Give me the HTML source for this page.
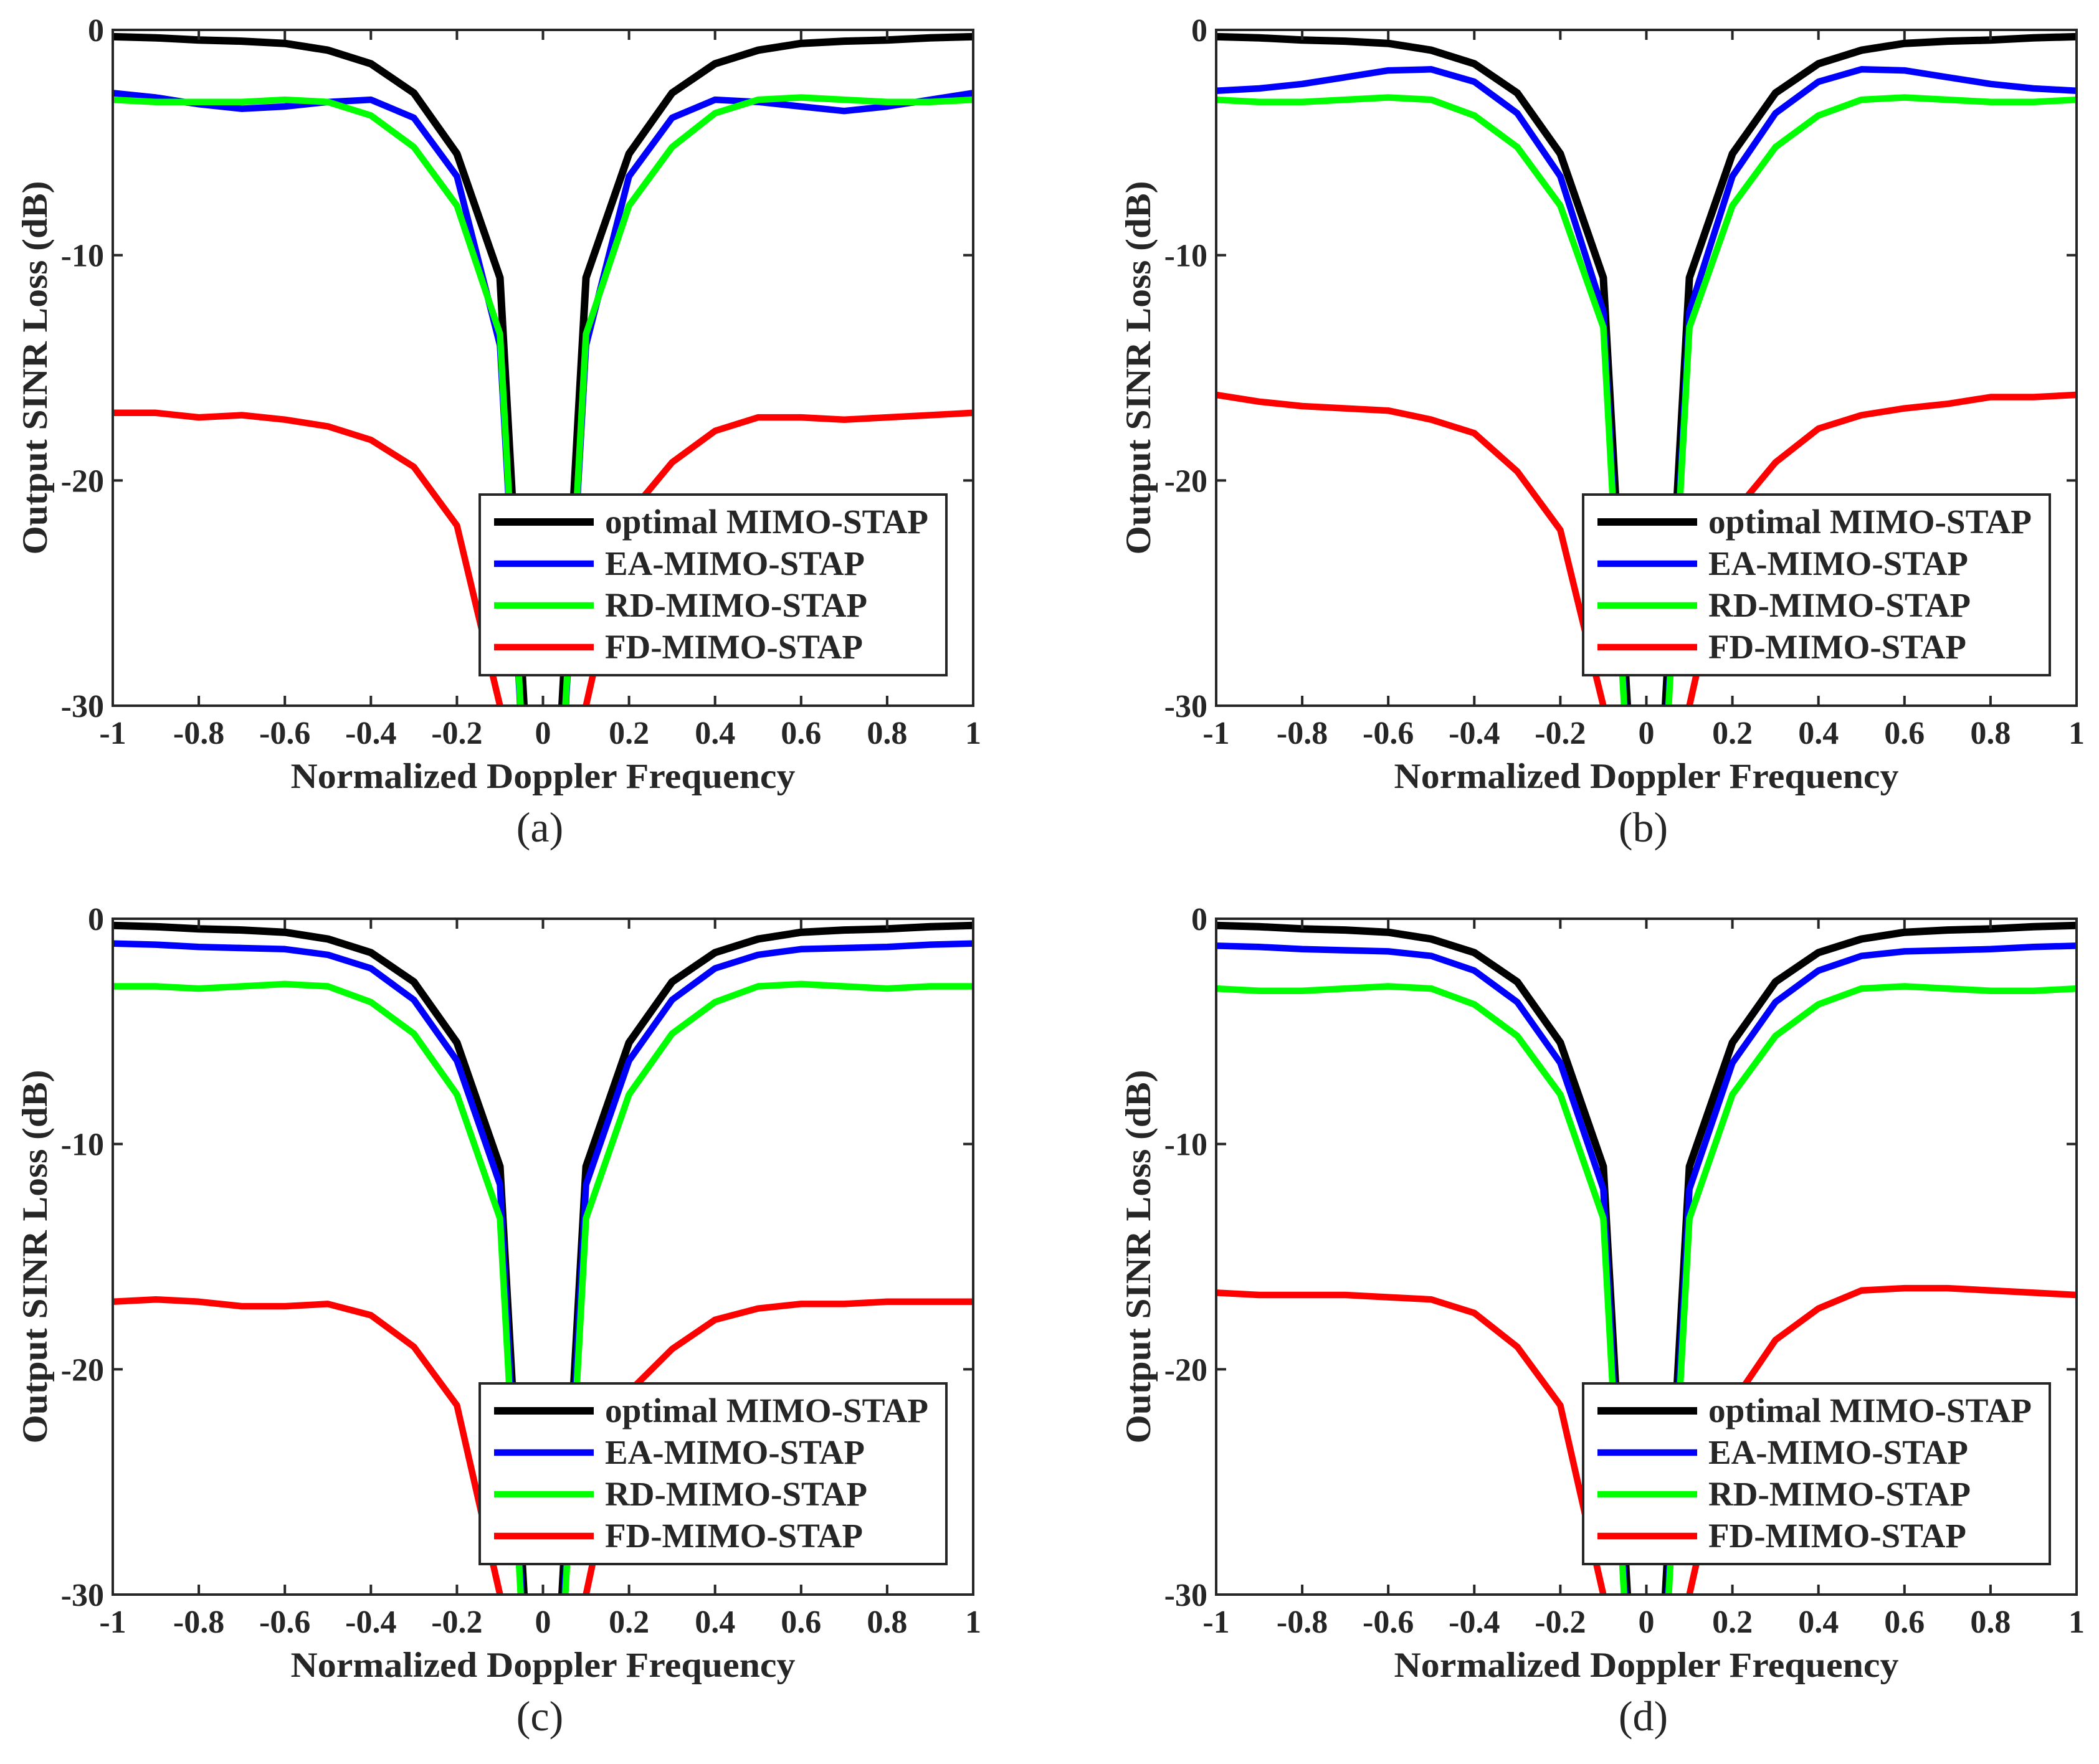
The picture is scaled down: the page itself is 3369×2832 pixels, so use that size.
<!DOCTYPE html>
<html><head><meta charset="utf-8"><title>Output SINR Loss</title>
<style>html,body{margin:0;padding:0;background:#fff;overflow:hidden;width:3369px;height:2832px}svg{display:block}
text{font-family:"Liberation Serif","DejaVu Serif",serif;fill:#262626}</style></head>
<body>
<svg id="fig" xmlns="http://www.w3.org/2000/svg" width="3369" height="2832" viewBox="0 0 3369 2832" font-family="'Liberation Serif', 'DejaVu Serif', serif"></svg>
<script>
// ---- data ----
const xVals = [-1,-0.9,-0.8,-0.7,-0.6,-0.5,-0.4,-0.3,-0.2,-0.1,0,0.1,0.2,0.3,0.4,0.5,0.6,0.7,0.8,0.9,1];
const xTicks = [-1,-0.8,-0.6,-0.4,-0.2,0,0.2,0.4,0.6,0.8,1];
const xTickLabels = ["-1","-0.8","-0.6","-0.4","-0.2","0","0.2","0.4","0.6","0.8","1"];
const yTicks = [0,-10,-20,-30];
const yTickLabels = ["0","-10","-20","-30"];
const seriesNames = ["optimal MIMO-STAP","EA-MIMO-STAP","RD-MIMO-STAP","FD-MIMO-STAP"];
const panelLabels = ["(a)","(b)","(c)","(d)"];

const optA = [-0.3,-0.35,-0.45,-0.5,-0.6,-0.9,-1.5,-2.8,-5.5,-11,-45,-11,-5.5,-2.8,-1.5,-0.9,-0.6,-0.5,-0.45,-0.35,-0.3];
const eaA  = [-2.8,-3.0,-3.3,-3.5,-3.4,-3.2,-3.1,-3.9,-6.5,-14,-48,-14,-6.5,-3.9,-3.1,-3.2,-3.4,-3.6,-3.4,-3.1,-2.8];
const rdA  = [-3.1,-3.2,-3.2,-3.2,-3.1,-3.2,-3.8,-5.2,-7.8,-13.5,-48,-13.5,-7.8,-5.2,-3.7,-3.1,-3.0,-3.1,-3.2,-3.2,-3.1];
const fdA  = [-17,-17,-17.2,-17.1,-17.3,-17.6,-18.2,-19.4,-22,-30,-80,-30,-21.5,-19.2,-17.8,-17.2,-17.2,-17.3,-17.2,-17.1,-17];

const optB = [-0.3,-0.35,-0.45,-0.5,-0.6,-0.9,-1.5,-2.8,-5.5,-11,-45,-11,-5.5,-2.8,-1.5,-0.9,-0.6,-0.5,-0.45,-0.35,-0.3];
const eaB  = [-2.7,-2.6,-2.4,-2.1,-1.8,-1.75,-2.3,-3.7,-6.5,-12.5,-48,-12.5,-6.5,-3.7,-2.3,-1.75,-1.8,-2.1,-2.4,-2.6,-2.7];
const rdB  = [-3.1,-3.2,-3.2,-3.1,-3.0,-3.1,-3.8,-5.2,-7.8,-13.2,-48,-13.2,-7.8,-5.2,-3.8,-3.1,-3.0,-3.1,-3.2,-3.2,-3.1];
const fdB  = [-16.2,-16.5,-16.7,-16.8,-16.9,-17.3,-17.9,-19.6,-22.2,-30,-80,-30,-21.5,-19.2,-17.7,-17.1,-16.8,-16.6,-16.3,-16.3,-16.2];

const optC = [-0.3,-0.35,-0.45,-0.5,-0.6,-0.9,-1.5,-2.8,-5.5,-11,-45,-11,-5.5,-2.8,-1.5,-0.9,-0.6,-0.5,-0.45,-0.35,-0.3];
const eaC  = [-1.1,-1.15,-1.25,-1.3,-1.35,-1.6,-2.2,-3.6,-6.3,-11.8,-48,-11.8,-6.3,-3.6,-2.2,-1.6,-1.35,-1.3,-1.25,-1.15,-1.1];
const rdC  = [-3.0,-3.0,-3.1,-3.0,-2.9,-3.0,-3.7,-5.1,-7.8,-13.3,-48,-13.3,-7.8,-5.1,-3.7,-3.0,-2.9,-3.0,-3.1,-3.0,-3.0];
const fdC  = [-17,-16.9,-17,-17.2,-17.2,-17.1,-17.6,-19,-21.6,-30,-80,-30,-21,-19.1,-17.8,-17.3,-17.1,-17.1,-17,-17,-17];

const optD = [-0.3,-0.35,-0.45,-0.5,-0.6,-0.9,-1.5,-2.8,-5.5,-11,-45,-11,-5.5,-2.8,-1.5,-0.9,-0.6,-0.5,-0.45,-0.35,-0.3];
const eaD  = [-1.2,-1.25,-1.35,-1.4,-1.45,-1.65,-2.3,-3.7,-6.4,-12,-48,-12,-6.4,-3.7,-2.3,-1.65,-1.45,-1.4,-1.35,-1.25,-1.2];
const rdD  = [-3.1,-3.2,-3.2,-3.1,-3.0,-3.1,-3.8,-5.2,-7.8,-13.3,-48,-13.3,-7.8,-5.2,-3.8,-3.1,-3.0,-3.1,-3.2,-3.2,-3.1];
const fdD  = [-16.6,-16.7,-16.7,-16.7,-16.8,-16.9,-17.5,-19,-21.6,-30,-80,-30,-21.5,-18.7,-17.3,-16.5,-16.4,-16.4,-16.5,-16.6,-16.7];

const panelSeries = [[optA,eaA,rdA,fdA],[optB,eaB,rdB,fdB],[optC,eaC,rdC,fdC],[optD,eaD,rdD,fdD]];
// ---- layout ----
const colors = ["#000000","#0000ff","#00ff00","#ff0000"];
const seriesKeys = ["optimal","ea","rd","fd"];
const legendLens = [519,417,421,414];
const NS = "http://www.w3.org/2000/svg";
const fig = document.getElementById("fig");
function mk(tag, attrs, parent){const e=document.createElementNS(NS,tag);for(const k in attrs)e.setAttribute(k,attrs[k]);(parent||fig).appendChild(e);return e;}
const W = 1381, H = 1085;
const origins = [[181,48],[1952,48],[181,1475],[1952,1475]];
const defs = mk("defs",{});
origins.forEach((o,p)=>{
  const L=o[0], T=o[1], R=L+W, B=T+H;
  const xs = v => L + (v+1)/2*W;
  const ys = v => T + (0 - v)/30*H;
  const g = mk("g",{});
  
  
  const cp = mk("clipPath",{id:"clip"+p},defs);
  mk("rect",{x:L,y:T,width:W,height:H},cp);
  const lg = mk("g",{"clip-path":"url(#clip"+p+")"},g);
  panelSeries[p].forEach((arr,s)=>{
    const pts = arr.map((v,i)=>xs(xVals[i]).toFixed(1)+","+ys(v).toFixed(1)).join(" ");
    const pl = mk("polyline",{points:pts,fill:"none",stroke:colors[s],"stroke-width":s===0?12:10.5,"stroke-linejoin":"round"},lg);
    
    
  });
  const box = mk("rect",{x:L,y:T,width:W,height:H,fill:"none",stroke:"#262626","stroke-width":4},g);
  
  
  xTicks.forEach((v,i)=>{
    const x=xs(v);
    mk("line",{x1:x,y1:B,x2:x,y2:B-16,stroke:"#262626","stroke-width":4},g);
    mk("line",{x1:x,y1:T,x2:x,y2:T+16,stroke:"#262626","stroke-width":4},g);
    const t=mk("text",{x:x,y:B+61,"text-anchor":"middle","font-size":52,"font-weight":"bold"},g);
    t.textContent=xTickLabels[i];
    
    
  });
  yTicks.forEach((v,i)=>{
    const y=ys(v);
    mk("line",{x1:L,y1:y,x2:L+16,y2:y,stroke:"#262626","stroke-width":4},g);
    mk("line",{x1:R,y1:y,x2:R-16,y2:y,stroke:"#262626","stroke-width":4},g);
    const t=mk("text",{x:L-14,y:y+18,"text-anchor":"end","font-size":52,"font-weight":"bold"},g);
    t.textContent=yTickLabels[i];
    
    
  });
  const xt=mk("text",{x:L+W/2,y:B+132,"text-anchor":"middle","font-size":57,"font-weight":"bold",textLength:810,lengthAdjust:"spacingAndGlyphs"},g);
  xt.textContent="Normalized Doppler Frequency";
  
  
  const yt=mk("text",{x:0,y:0,"text-anchor":"middle","font-size":57,"font-weight":"bold",textLength:600,lengthAdjust:"spacingAndGlyphs",transform:"translate("+(L-106)+","+(T+H/2)+") rotate(-90)"},g);
  yt.textContent="Output SINR Loss (dB)";
  
  
  const pt=mk("text",{x:L+W/2-5,y:B+218,"text-anchor":"middle","font-size":68,fill:"#000"},g);
  pt.textContent=panelLabels[p];
  
  
  const dx=L-181, dy=T-48;
  const leg=mk("g",{},g);
  
  
  mk("rect",{x:770+dx,y:794+dy,width:749,height:290,fill:"#fff",stroke:"#262626","stroke-width":4},leg);
  const ly=[838,905,972,1039];
  seriesNames.forEach((nm,s)=>{
    const e=mk("g",{},leg);
    
    
    mk("line",{x1:793+dx,y1:ly[s]+dy,x2:953+dx,y2:ly[s]+dy,stroke:colors[s],"stroke-width":s===0?12:10.5},e);
    const t=mk("text",{x:971+dx,y:ly[s]+dy+18,"font-size":55,"font-weight":"bold",fill:"#000",textLength:legendLens[s],lengthAdjust:"spacingAndGlyphs"},e);
    t.textContent=nm;
  });
});
</script>
</body></html>
